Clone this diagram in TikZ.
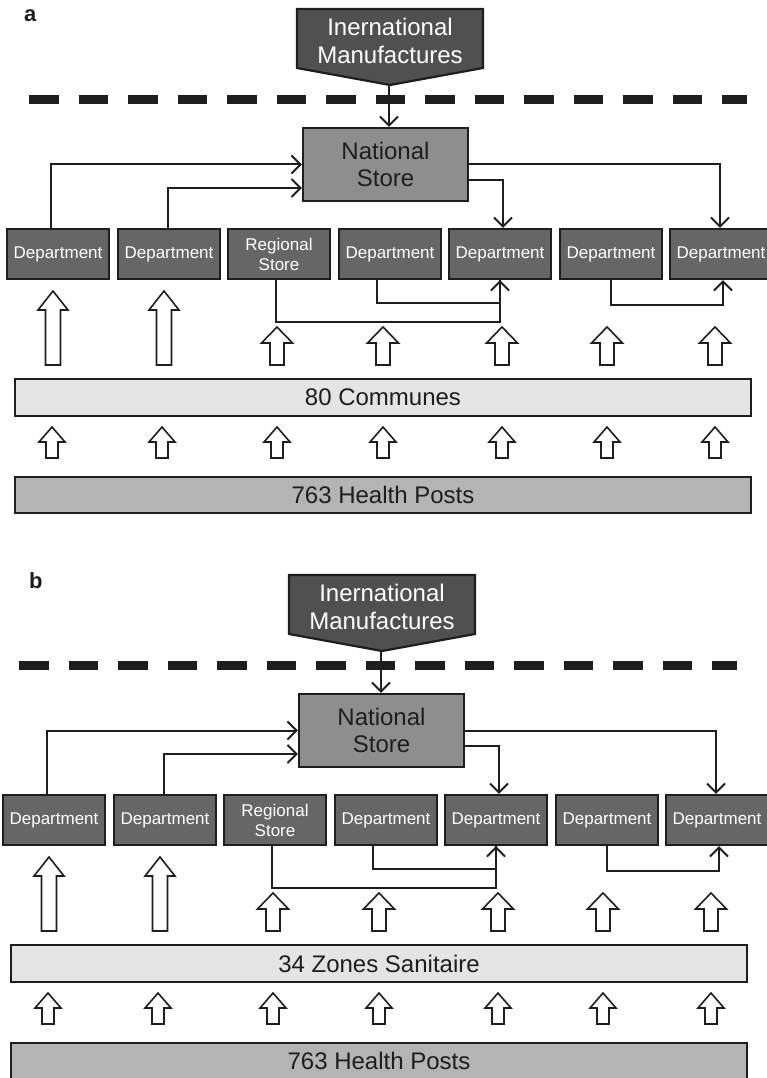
\documentclass[tikz,border=0pt]{standalone}
\usepackage{fontspec}
\setmainfont{Liberation Sans}
\usetikzlibrary{arrows.meta}

\definecolor{edgecol}{HTML}{1E1E1E}
\definecolor{bannerfill}{HTML}{505050}
\definecolor{deptfill}{HTML}{666666}
\definecolor{storefill}{HTML}{8E8E8E}
\definecolor{midfill}{HTML}{E4E4E4}
\definecolor{postfill}{HTML}{B4B4B4}

\tikzset{
  dept/.style={draw=edgecol, line width=2.2pt, fill=deptfill, text=white,
    minimum width=102pt, minimum height=50pt, inner sep=0pt, align=center,
    font=\fontsize{17}{20}\selectfont},
  store/.style={draw=edgecol, line width=2.2pt, fill=storefill, text=edgecol,
    minimum width=165pt, minimum height=73pt, inner sep=0pt, align=center,
    font=\fontsize{24}{27}\selectfont},
  band/.style={draw=edgecol, line width=2.2pt, text=edgecol,
    minimum width=736pt, inner sep=0pt, font=\fontsize{24}{28}\selectfont},
  banner/.style={draw=edgecol, line width=2.2pt, fill=bannerfill, line join=miter},
  bannertext/.style={text=white, align=center, inner sep=0pt,
    font=\fontsize{24}{28}\selectfont},
  dashrule/.style={line width=9.5pt, draw=edgecol, dash pattern=on 29.5pt off 20pt},
  plain/.style={line width=2pt, draw=edgecol},
  conn/.style={plain, -{Straight Barb[length=9pt,width=18pt,line width=2pt]}},
  hollow/.style={draw=edgecol, line width=1.6pt, fill=white, line join=miter},
  panellabel/.style={font=\fontsize{22}{24}\selectfont\bfseries, text=edgecol,
    inner sep=0pt, anchor=base west}
}

% hollow upward block arrow: x, tip y, head base y, bottom y, head half width, shaft half width
\newcommand\blockup[6]{%
  \draw[hollow] (#1,#2) -- ({#1+#5},#3) -- ({#1+#6},#3) -- ({#1+#6},#4)
    -- ({#1-#6},#4) -- ({#1-#6},#3) -- ({#1-#5},#3) -- cycle;}

% one supply chain: #1 name prefix, #2 middle band text,
% #3 extra x shift of the banner, #4 extra x shift of the dashed rule
\newcommand\supplypanel[4]{%
  \begin{scope}[xshift=#4]
    \draw[dashrule] (29,99.5) -- (747,99.5);
  \end{scope}
  \begin{scope}[xshift=#3]
    \draw[banner] (297,9) -- (483,9) -- (483,68) -- (390,85) -- (297,68) -- cycle;
    \node[bannertext] (#1intl) at (390,40.5) {Inernational\\Manufactures};
    \coordinate (#1tip) at (389,85);
  \end{scope}
  \node[store] (#1nat) at (385.5,164.5) {National\\Store};
  \node[dept] (#1d1) at (58,254) {Department};
  \node[dept] (#1d2) at (169,254) {Department};
  \node[dept] (#1d3) at (279,254) {Regional\\Store};
  \node[dept] (#1d4) at (390,254) {Department};
  \node[dept] (#1d5) at (500,254) {Department};
  \node[dept] (#1d6) at (611,254) {Department};
  \node[dept] (#1d7) at (721,254) {Department};
  \node[band, fill=midfill, minimum height=37pt] (#1mid) at (383,397.5) {#2};
  \node[band, fill=postfill, minimum height=36pt] (#1posts) at (383,495) {763 Health Posts};
  % flows into and out of the national store
  \draw[conn] (#1tip) -- (#1tip |- #1nat.north);
  \draw[conn] ([xshift=-7]#1d1.north) |- (#1nat.west);
  \draw[conn] ([xshift=-1]#1d2.north) |- ([yshift=-23.5]#1nat.west);
  \draw[conn] (#1nat.east) -| ([xshift=-1]#1d7.north);
  \draw[conn] ([yshift=-15.5]#1nat.east) -| ([xshift=3]#1d5.north);
  % flows between departments
  \draw[plain] ([xshift=-13]#1d4.south) -- ++(0,23) -| (#1d5.south);
  \draw[conn] ([xshift=-3]#1d3.south) -- ++(0,42) -| (#1d5.south);
  \draw[conn] (#1d6.south) -- ++(0,25) -| ([xshift=2]#1d7.south);
  % upward supply from the lower levels
  \foreach \ax in {53,164} {\blockup{\ax}{291}{310}{365}{15}{7.5}}
  \foreach \ax in {277,383,502,607,715} {\blockup{\ax}{327}{343}{365}{15.5}{7}}
  \foreach \ax in {52,162,277,383,502,607,715} {\blockup{\ax}{427}{442}{458}{13}{6}}
}

\begin{document}
\begin{tikzpicture}[x=1pt,y=-1pt]
  \useasboundingbox (0,0) rectangle (766,1078);
  \node[panellabel] (laba) at (24,22) {a};
  \supplypanel{a}{80 Communes}{0}{0}
  \node[panellabel] (labb) at (29,588) {b};
  \begin{scope}[xshift=-4, yshift=-566]
    \supplypanel{b}{34 Zones Sanitaire}{-4}{-6}
  \end{scope}
\end{tikzpicture}
\end{document}
